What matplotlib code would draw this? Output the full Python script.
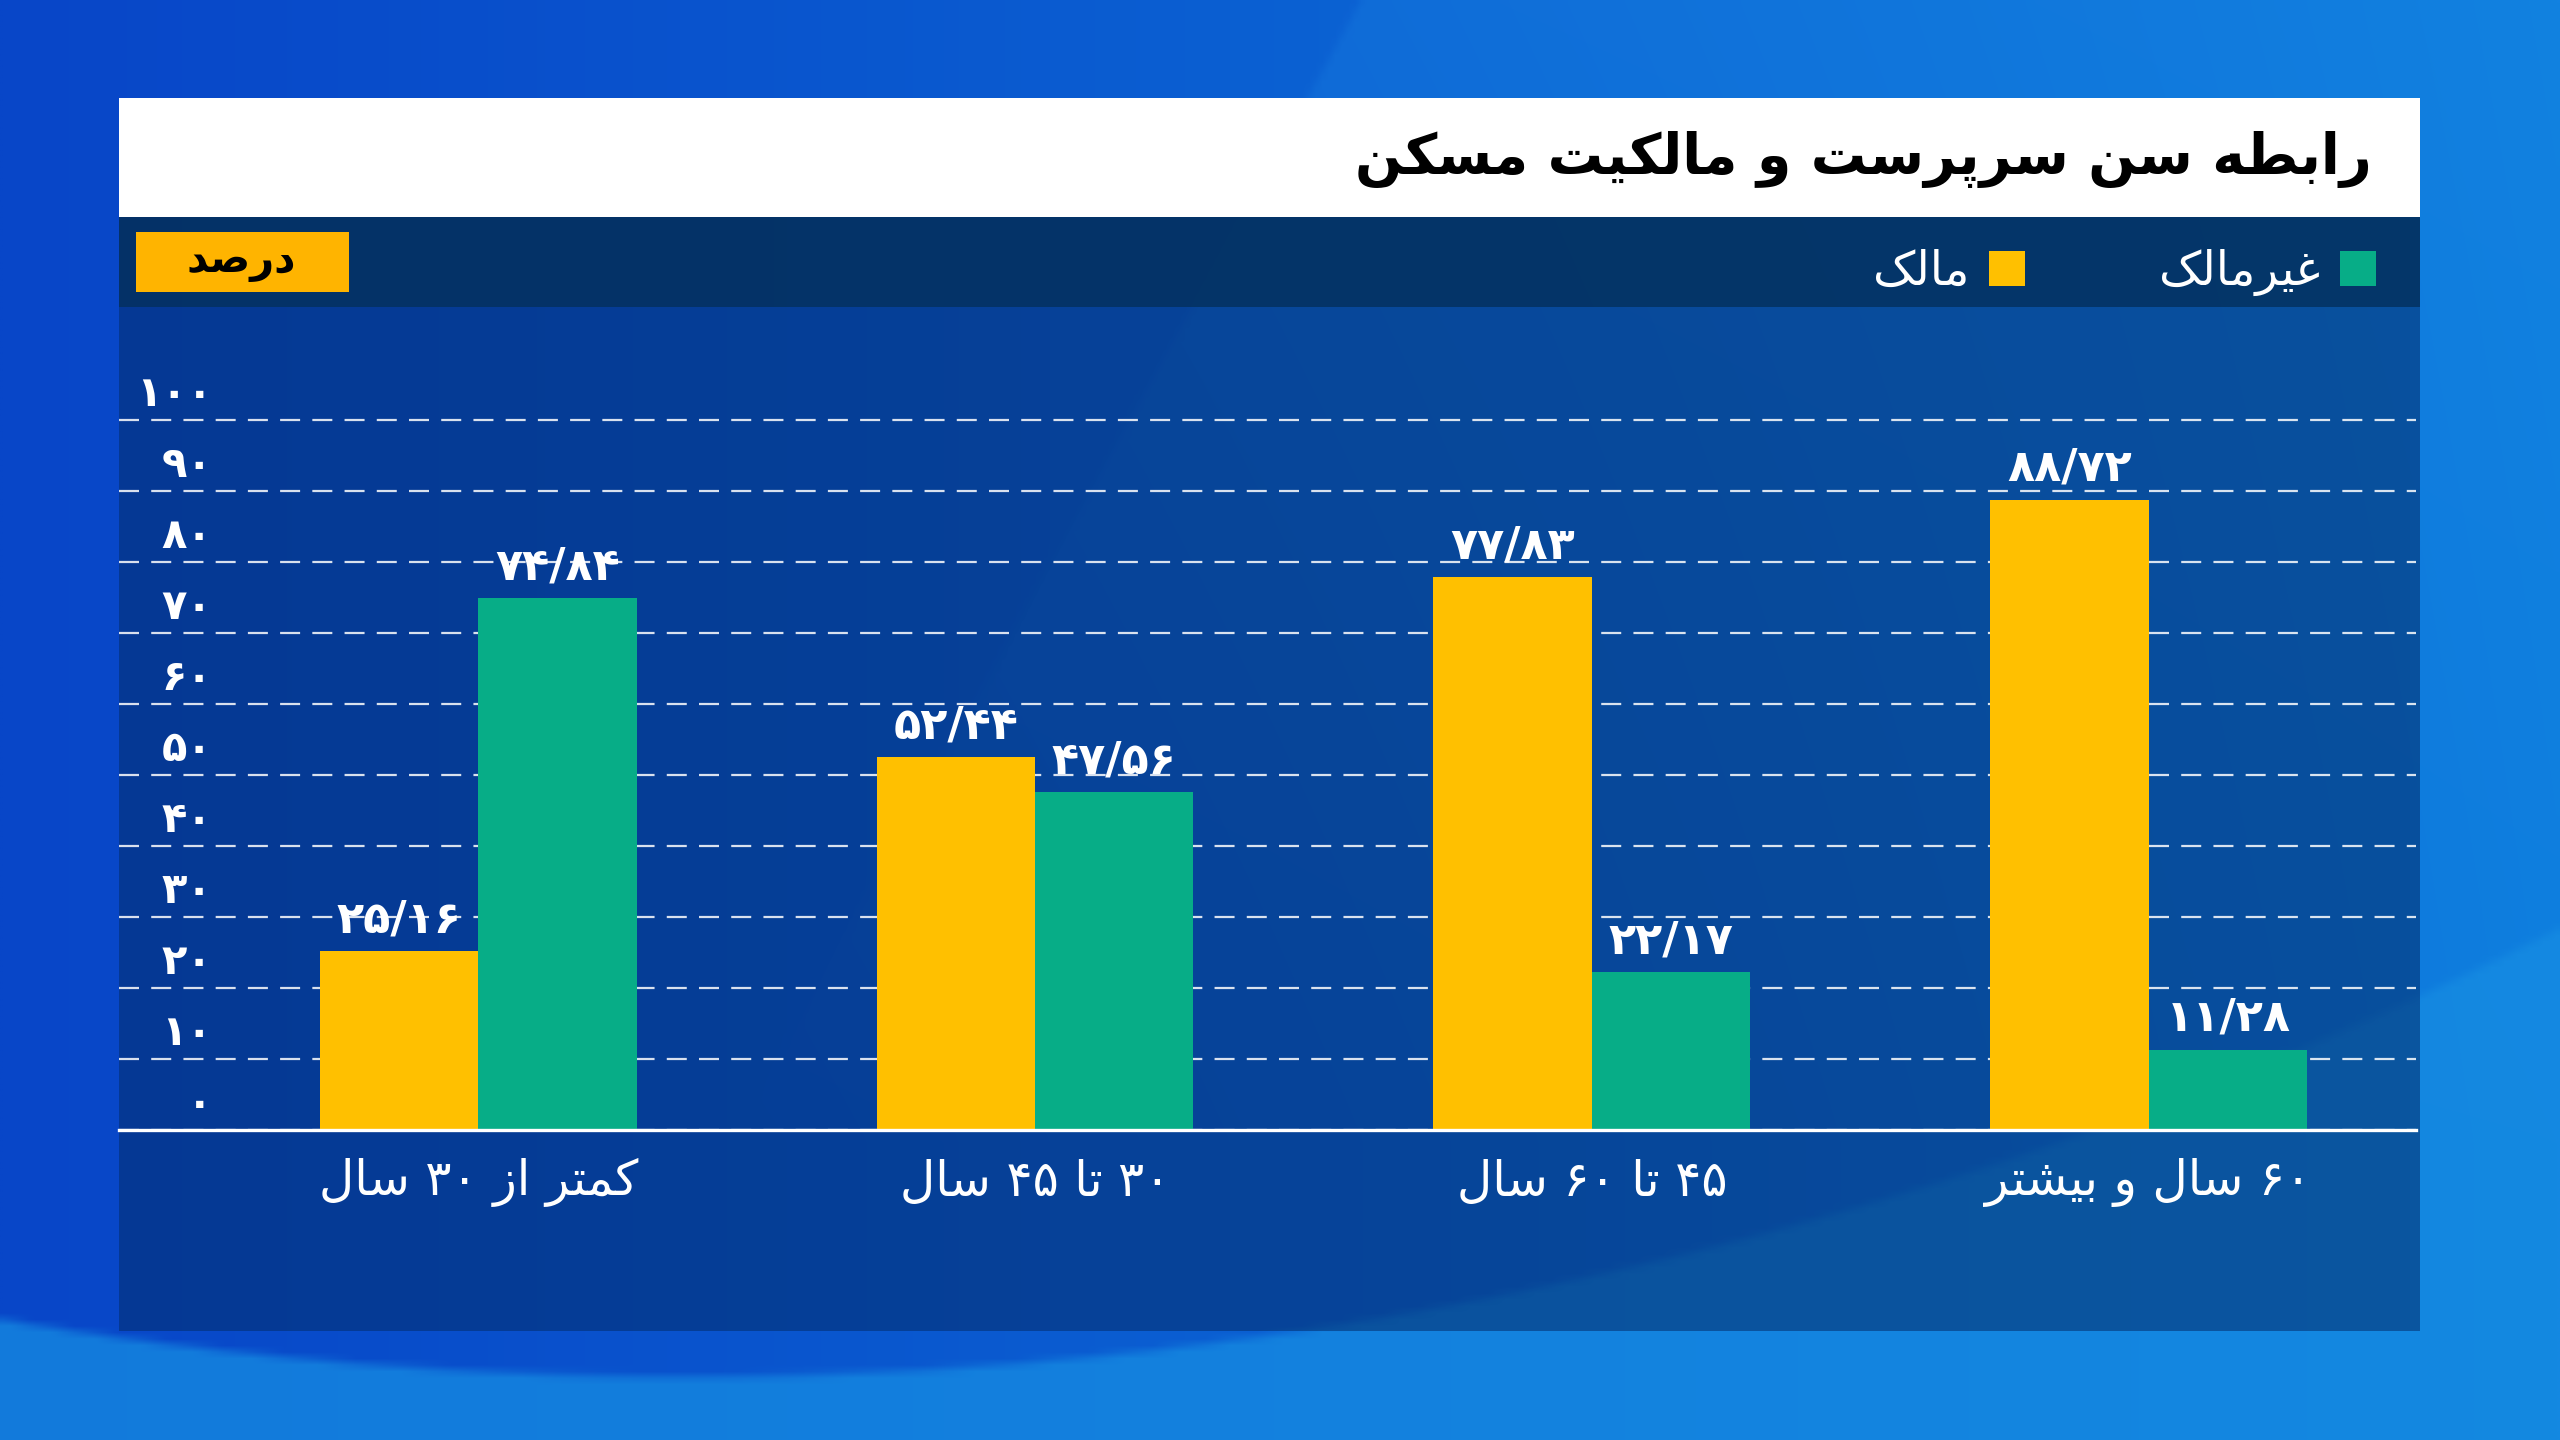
import re
import numpy as np
import matplotlib
matplotlib.use("Agg")
import matplotlib.pyplot as plt
from matplotlib.patches import Rectangle
from matplotlib.transforms import ScaledTranslation

# ---------------- data ----------------
categories = ["کمتر از ۳۰ سال", "۳۰ تا ۴۵ سال", "۴۵ تا ۶۰ سال", "۶۰ سال و بیشتر"]
owner = [25.16, 52.44, 77.83, 88.72]        # مالک
non_owner = [74.84, 47.56, 22.17, 11.28]    # غیرمالک
yticks = [0, 10, 20, 30, 40, 50, 60, 70, 80, 90, 100]
title = "رابطه سن سرپرست و مالکیت مسکن"
unit = "درصد"
label_owner = "مالک"
label_non_owner = "غیرمالک"

# ---------------- minimal Persian shaping ----------------
FORMS = {
    '\u0627': ('\uFE8D', '\uFE8E', None, None),
    '\u0628': ('\uFE8F', '\uFE90', '\uFE91', '\uFE92'),
    '\u067E': ('\uFB56', '\uFB57', '\uFB58', '\uFB59'),
    '\u062A': ('\uFE95', '\uFE96', '\uFE97', '\uFE98'),
    '\u062F': ('\uFEA9', '\uFEAA', None, None),
    '\u0631': ('\uFEAD', '\uFEAE', None, None),
    '\u0632': ('\uFEAF', '\uFEB0', None, None),
    '\u0633': ('\uFEB1', '\uFEB2', '\uFEB3', '\uFEB4'),
    '\u0634': ('\uFEB5', '\uFEB6', '\uFEB7', '\uFEB8'),
    '\u0635': ('\uFEB9', '\uFEBA', '\uFEBB', '\uFEBC'),
    '\u0637': ('\uFEC1', '\uFEC2', '\uFEC3', '\uFEC4'),
    '\u063A': ('\uFECD', '\uFECE', '\uFECF', '\uFED0'),
    '\u0644': ('\uFEDD', '\uFEDE', '\uFEDF', '\uFEE0'),
    '\u0645': ('\uFEE1', '\uFEE2', '\uFEE3', '\uFEE4'),
    '\u0646': ('\uFEE5', '\uFEE6', '\uFEE7', '\uFEE8'),
    '\u0647': ('\uFEE9', '\uFEEA', '\uFEEB', '\uFEEC'),
    '\u0648': ('\uFEED', '\uFEEE', None, None),
    '\u06A9': ('\uFB8E', '\uFB8F', '\uFB90', '\uFB91'),
    '\u06CC': ('\uFBFC', '\uFBFD', '\uFBFE', '\uFBFF'),
}


def shape(text):
    chars = list(text)
    out = []
    i = 0
    n = len(chars)
    while i < n:
        c = chars[i]
        if c not in FORMS:
            out.append(c)
            i += 1
            continue
        prev = chars[i - 1] if i > 0 else None
        jp = prev in FORMS and FORMS[prev][2] is not None
        nxt = chars[i + 1] if i + 1 < n else None
        if c == '\u0644' and nxt == '\u0627':
            out.append('\uFEFC' if jp else '\uFEFB')
            i += 2
            continue
        iso, fin, ini, med = FORMS[c]
        jn = nxt in FORMS and ini is not None
        if jp and jn:
            g = med
        elif jp:
            g = fin
        elif jn:
            g = ini
        else:
            g = iso
        out.append(g)
        i += 1
    return ''.join(out)


def rtl(text):
    s = shape(text)[::-1]
    return re.sub(r'[0-9\u06F0-\u06F9/.]+', lambda m: m.group(0)[::-1], s)


def fa(s):
    return str(s).translate(str.maketrans('0123456789.', '۰۱۲۳۴۵۶۷۸۹/'))


plt.rcParams['font.family'] = ['DejaVu Sans']

W, H = 1568.0, 882.0   # layout reference units
fig = plt.figure(figsize=(25.6, 14.4), dpi=100)

# ---------------- background ----------------
bg = fig.add_axes([0, 0, 1, 1], zorder=0)
bg.set_xlim(0, W)
bg.set_ylim(H, 0)
bg.axis('off')

ny, nx = 221, 392
yy, xx = np.mgrid[0:H:ny * 1j, 0:W:nx * 1j]
t = (xx / W)
c_left = np.array([8, 70, 200]) / 255.0
c_right = np.array([14, 126, 222]) / 255.0
img = c_left[None, None, :] * (1 - t[..., None] ** 1.1) + c_right[None, None, :] * (t[..., None] ** 1.1)
# lighter zone outside a big arc (bottom)
d = np.sqrt((xx - 420) ** 2 + (yy + 1690) ** 2)
outside = np.clip((d - 2532) / 6.0, 0, 1)
light = np.array([22, 140, 226]) / 255.0
img = img * (1 - 0.75 * outside[..., None]) + light[None, None, :] * 0.75 * outside[..., None]
# lighter wedge at the top right
wedge = np.clip((xx - (830 - 0.55 * yy)) / 6.0, 0, 1) * np.clip(1 - yy / 700, 0, 1)
img = img * (1 - 0.25 * wedge[..., None]) + np.array([30, 140, 230])[None, None, :] / 255.0 * 0.25 * wedge[..., None]
bg.imshow(np.clip(img, 0, 1), extent=(0, W, H, 0), aspect='auto', interpolation='bilinear', zorder=0)

# panels
bg.add_patch(Rectangle((73, 60), 1409, 73, facecolor='white', edgecolor='none', zorder=1))
bg.add_patch(Rectangle((73, 133), 1409, 55, facecolor='#04305f', alpha=0.92, edgecolor='none', zorder=1))
bg.add_patch(Rectangle((73, 188), 1409, 627, facecolor='#032c6a', alpha=0.55, edgecolor='none', zorder=1))
bg.add_patch(Rectangle((83, 142), 131, 37, facecolor='#FFB400', edgecolor='none', zorder=2))
bg.text(1453, 98, rtl(title), ha='right', va='center', fontsize=40, fontweight='bold', color='black', zorder=3)
bg.text(148, 160, rtl(unit), ha='center', va='center', fontsize=30, fontweight='bold', color='black', zorder=3)

# ---------------- chart ----------------
scale = 4.35  # px per unit in layout units
ax_top = 240
ax = fig.add_axes([73 / W, 1 - 692 / H, (1480 - 73) / W, (692 - ax_top) / H], zorder=2)
ax.patch.set_alpha(0)
x = np.arange(len(categories))
bw = 97 / 341
yellow = '#FFC000'
green = '#07AD87'
b_owner = ax.bar(x - bw / 2, owner, width=bw, color=yellow, zorder=3, label=rtl(label_owner))
b_non = ax.bar(x + bw / 2, non_owner, width=bw, color=green, zorder=3, label=rtl(label_non_owner))
ax.set_xlim(-(293 - 73) / 341, 3 + (1480 - 1316) / 341)
ax.set_ylim(0, (692 - ax_top) / scale)

for bars, vals in ((b_owner, owner), (b_non, non_owner)):
    for rect, v in zip(bars, vals):
        ax.annotate(rtl(fa(f"{v:.2f}")), (rect.get_x() + rect.get_width() / 2, v),
                    xytext=(0, 7), textcoords='offset points', ha='center', va='bottom',
                    fontsize=32, fontweight='bold', color='white', zorder=5)

ax.set_yticks(yticks)
ax.set_yticklabels([rtl(fa(v)) for v in yticks])
ax.yaxis.grid(True, color='white', alpha=0.85, linewidth=1.6, linestyle=(0, (9, 5.5)), zorder=1)
ax.set_axisbelow(True)
ax.tick_params(axis='y', length=0, pad=-67, labelsize=30, labelcolor='white')
for lab in ax.get_yticklabels():
    lab.set_fontweight('bold')
    lab.set_transform(lab.get_transform() + ScaledTranslation(0, 22 / 72, fig.dpi_scale_trans))

ax.set_xticks(x)
ax.set_xticklabels([rtl(c) for c in categories])
ax.tick_params(axis='x', length=0, pad=20, labelsize=35, labelcolor='white')

for s in ('left', 'right', 'top'):
    ax.spines[s].set_visible(False)
ax.spines['bottom'].set_color('white')
ax.spines['bottom'].set_linewidth(2.4)
ax.spines['bottom'].set_zorder(4)

fig.legend(handles=[b_owner, b_non], labels=[rtl(label_owner), rtl(label_non_owner)],
           loc='center right', bbox_to_anchor=(1455 / W, 1 - 167 / H), ncol=2, frameon=False,
           markerfirst=False, handlelength=0.75, handleheight=0.75, handletextpad=0.42,
           columnspacing=2.85, fontsize=34, labelcolor='white', borderaxespad=0, borderpad=0)

fig.savefig('out.png', dpi=100)
